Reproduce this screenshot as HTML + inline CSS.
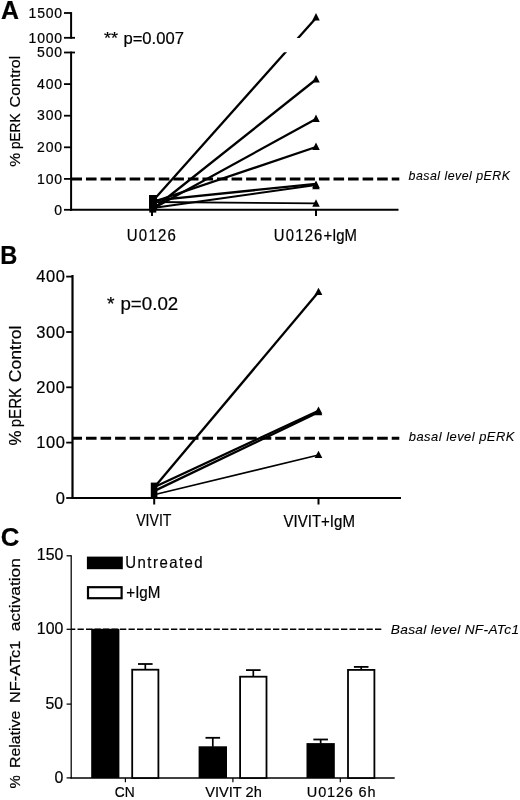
<!DOCTYPE html>
<html><head><meta charset="utf-8"><title>Figure</title>
<style>html,body{margin:0;padding:0;background:#fff}svg{display:block}text{font-family:"Liberation Sans", sans-serif;fill:#000;stroke:#000;stroke-width:0.2px;white-space:pre}text[font-style=italic]{stroke-width:0.1px}</style></head><body>
<svg width="520" height="800" viewBox="0 0 520 800">
<rect width="520" height="800" fill="#fff"/>
<line x1="71.10" y1="12.10" x2="71.10" y2="38.70" stroke="#000" stroke-width="2" />
<line x1="64.00" y1="13.00" x2="71.10" y2="13.00" stroke="#000" stroke-width="1.8" />
<line x1="64.00" y1="37.80" x2="75.00" y2="37.80" stroke="#000" stroke-width="1.8" />
<line x1="71.10" y1="51.60" x2="71.10" y2="210.80" stroke="#000" stroke-width="2" />
<line x1="64.00" y1="52.50" x2="75.00" y2="52.50" stroke="#000" stroke-width="1.8" />
<line x1="64.00" y1="84.10" x2="71.10" y2="84.10" stroke="#000" stroke-width="1.8" />
<line x1="64.00" y1="115.70" x2="71.10" y2="115.70" stroke="#000" stroke-width="1.8" />
<line x1="64.00" y1="147.30" x2="71.10" y2="147.30" stroke="#000" stroke-width="1.8" />
<line x1="64.00" y1="178.90" x2="71.10" y2="178.90" stroke="#000" stroke-width="1.8" />
<line x1="64.00" y1="209.80" x2="71.10" y2="209.80" stroke="#000" stroke-width="1.8" />
<line x1="70.10" y1="209.80" x2="398.50" y2="209.80" stroke="#000" stroke-width="2" />
<line x1="152.00" y1="209.80" x2="152.00" y2="216.00" stroke="#000" stroke-width="2" />
<line x1="316.00" y1="209.80" x2="316.00" y2="216.00" stroke="#000" stroke-width="2" />
<line x1="71.40" y1="179.10" x2="399.30" y2="179.10" stroke="#000" stroke-width="3" stroke-dasharray="10.6 3.96"/>
<clipPath id="brk"><rect x="72" y="0" width="330" height="38"/><rect x="72" y="52.2" width="330" height="160"/></clipPath>
<line x1="153" y1="200.8" x2="316" y2="18" stroke="#000" stroke-width="2.3" clip-path="url(#brk)"/>
<polygon points="312.25,20.57 319.75,20.57 316.00,13.07" fill="#000"/>
<line x1="153.00" y1="209.00" x2="316.00" y2="79.50" stroke="#000" stroke-width="2.3" />
<polygon points="312.25,82.58 319.75,82.58 316.00,75.08" fill="#000"/>
<line x1="153.00" y1="208.50" x2="316.00" y2="119.00" stroke="#000" stroke-width="2.3" />
<polygon points="312.25,122.08 319.75,122.08 316.00,114.58" fill="#000"/>
<line x1="153.00" y1="202.00" x2="316.00" y2="147.00" stroke="#000" stroke-width="2.3" />
<polygon points="312.25,150.07 319.75,150.07 316.00,142.57" fill="#000"/>
<line x1="153.00" y1="200.60" x2="316.00" y2="183.80" stroke="#000" stroke-width="2.3" />
<polygon points="312.25,189.18 319.75,189.18 316.00,181.68" fill="#000"/>
<line x1="153.00" y1="208.00" x2="316.00" y2="185.00" stroke="#000" stroke-width="1.8" />
<polygon points="312.25,187.97 319.75,187.97 316.00,180.47" fill="#000"/>
<line x1="153.00" y1="202.00" x2="316.00" y2="203.30" stroke="#000" stroke-width="1.8" />
<polygon points="312.25,206.78 319.75,206.78 316.00,199.28" fill="#000"/>
<rect x="149" y="195" width="8" height="14.5" fill="#000"/><rect x="149.3" y="209" width="7" height="3.6" fill="#000"/>
<line x1="72.50" y1="275.00" x2="72.50" y2="499.00" stroke="#000" stroke-width="2.2" />
<line x1="66.20" y1="276.60" x2="72.50" y2="276.60" stroke="#000" stroke-width="1.8" />
<line x1="66.20" y1="332.00" x2="72.50" y2="332.00" stroke="#000" stroke-width="1.8" />
<line x1="66.20" y1="387.30" x2="72.50" y2="387.30" stroke="#000" stroke-width="1.8" />
<line x1="66.20" y1="442.60" x2="72.50" y2="442.60" stroke="#000" stroke-width="1.8" />
<line x1="66.20" y1="498.00" x2="72.50" y2="498.00" stroke="#000" stroke-width="1.8" />
<line x1="71.50" y1="498.00" x2="401.00" y2="498.00" stroke="#000" stroke-width="2" />
<line x1="154.20" y1="498.00" x2="154.20" y2="504.50" stroke="#000" stroke-width="2" />
<line x1="318.50" y1="498.00" x2="318.50" y2="504.50" stroke="#000" stroke-width="2" />
<line x1="72.50" y1="438.30" x2="399.30" y2="438.30" stroke="#000" stroke-width="3" stroke-dasharray="10.6 3.96" stroke-dashoffset="1.1"/>
<line x1="155.00" y1="486.50" x2="318.50" y2="292.00" stroke="#000" stroke-width="2.3" />
<polygon points="314.65,295.03 322.35,295.03 318.50,287.63" fill="#000"/>
<line x1="155.00" y1="486.80" x2="318.50" y2="410.80" stroke="#000" stroke-width="2.3" />
<polygon points="314.65,413.83 322.35,413.83 318.50,406.43" fill="#000"/>
<line x1="155.00" y1="490.60" x2="318.50" y2="412.30" stroke="#000" stroke-width="2.3" />
<polygon points="314.65,415.33 322.35,415.33 318.50,407.93" fill="#000"/>
<line x1="155.00" y1="494.50" x2="318.50" y2="455.00" stroke="#000" stroke-width="1.8" />
<polygon points="314.65,458.03 322.35,458.03 318.50,450.63" fill="#000"/>
<rect x="150.8" y="482.6" width="6.6" height="15" fill="#000"/>
<line x1="71.20" y1="555.20" x2="71.20" y2="778.60" stroke="#000" stroke-width="1.25" />
<line x1="66.60" y1="555.80" x2="71.20" y2="555.80" stroke="#000" stroke-width="1.25" />
<line x1="66.60" y1="629.30" x2="71.20" y2="629.30" stroke="#000" stroke-width="1.25" />
<line x1="66.60" y1="704.10" x2="71.20" y2="704.10" stroke="#000" stroke-width="1.25" />
<line x1="66.60" y1="777.90" x2="71.20" y2="777.90" stroke="#000" stroke-width="1.25" />
<line x1="70.50" y1="778.00" x2="394.70" y2="778.00" stroke="#000" stroke-width="1.5" />
<line x1="125.40" y1="778.00" x2="125.40" y2="782.30" stroke="#000" stroke-width="1.2" />
<line x1="232.90" y1="778.00" x2="232.90" y2="782.30" stroke="#000" stroke-width="1.2" />
<line x1="340.30" y1="778.00" x2="340.30" y2="782.30" stroke="#000" stroke-width="1.2" />
<rect x="91.2" y="628.8" width="28.20" height="149.20" fill="#000"/>
<rect x="132.20000000000002" y="669.6999999999999" width="26.20" height="108.30" fill="#fff" stroke="#000" stroke-width="1.8"/>
<line x1="145.30" y1="669.30" x2="145.30" y2="664.00" stroke="#000" stroke-width="1.7" />
<line x1="138.00" y1="664.00" x2="152.60" y2="664.00" stroke="#000" stroke-width="1.8" />
<rect x="198.6" y="746.3" width="28.40" height="31.70" fill="#000"/>
<line x1="212.80" y1="746.80" x2="212.80" y2="737.80" stroke="#000" stroke-width="1.7" />
<line x1="205.50" y1="737.80" x2="220.10" y2="737.80" stroke="#000" stroke-width="1.8" />
<rect x="240.1" y="676.6999999999999" width="26.40" height="101.30" fill="#fff" stroke="#000" stroke-width="1.8"/>
<line x1="253.30" y1="676.30" x2="253.30" y2="670.10" stroke="#000" stroke-width="1.7" />
<line x1="246.00" y1="670.10" x2="260.60" y2="670.10" stroke="#000" stroke-width="1.8" />
<rect x="306.5" y="743.1" width="28.30" height="34.90" fill="#000"/>
<line x1="320.65" y1="743.60" x2="320.65" y2="739.50" stroke="#000" stroke-width="1.7" />
<line x1="313.35" y1="739.50" x2="327.95" y2="739.50" stroke="#000" stroke-width="1.8" />
<rect x="348.0" y="669.9" width="26.40" height="108.10" fill="#fff" stroke="#000" stroke-width="1.8"/>
<line x1="361.20" y1="669.50" x2="361.20" y2="666.90" stroke="#000" stroke-width="1.7" />
<line x1="353.90" y1="666.90" x2="368.50" y2="666.90" stroke="#000" stroke-width="1.8" />
<line x1="71.20" y1="629.20" x2="382.00" y2="629.20" stroke="#000" stroke-width="1.5" stroke-dasharray="6.3 2.2" stroke-dashoffset="2.2"/>
<rect x="86.9" y="556.6" width="35.9" height="12.6" fill="#000"/>
<rect x="88" y="587.2" width="33.6" height="11" fill="#fff" stroke="#000" stroke-width="2.2"/>
<text x="1.05" y="19.00" font-size="25" textLength="17.95" lengthAdjust="spacingAndGlyphs" xml:space="preserve" font-weight="bold">A</text>
<text x="28.60" y="18.00" font-size="14" letter-spacing="0.8" textLength="34.36" lengthAdjust="spacingAndGlyphs" xml:space="preserve">1500</text>
<text x="28.60" y="43.00" font-size="14" letter-spacing="0.8" textLength="34.36" lengthAdjust="spacingAndGlyphs" xml:space="preserve">1000</text>
<text x="37.10" y="57.00" font-size="14" letter-spacing="0.8" textLength="25.77" lengthAdjust="spacingAndGlyphs" xml:space="preserve">500</text>
<text x="37.10" y="89.00" font-size="14" letter-spacing="0.8" textLength="25.77" lengthAdjust="spacingAndGlyphs" xml:space="preserve">400</text>
<text x="37.10" y="120.00" font-size="14" letter-spacing="0.8" textLength="25.77" lengthAdjust="spacingAndGlyphs" xml:space="preserve">300</text>
<text x="37.10" y="152.00" font-size="14" letter-spacing="0.8" textLength="25.77" lengthAdjust="spacingAndGlyphs" xml:space="preserve">200</text>
<text x="37.10" y="184.00" font-size="14" letter-spacing="0.8" textLength="25.77" lengthAdjust="spacingAndGlyphs" xml:space="preserve">100</text>
<text x="54.35" y="215.00" font-size="14" letter-spacing="0.8" textLength="8.59" lengthAdjust="spacingAndGlyphs" xml:space="preserve">0</text>
<text x="104.12" y="44.00" font-size="16" textLength="14.01" lengthAdjust="spacingAndGlyphs" xml:space="preserve">**</text>
<text x="123.46" y="44.00" font-size="16" textLength="60.45" lengthAdjust="spacingAndGlyphs" xml:space="preserve">p=0.007</text>
<text x="126.83" y="241.00" font-size="16" letter-spacing="1.3" textLength="50.19" lengthAdjust="spacingAndGlyphs" xml:space="preserve">U0126</text>
<text x="273.84" y="241.00" font-size="16" letter-spacing="1.3" textLength="49.76" lengthAdjust="spacingAndGlyphs" xml:space="preserve">U0126</text>
<text x="323.50" y="241.00" font-size="16" textLength="33.47" lengthAdjust="spacingAndGlyphs" xml:space="preserve">+IgM</text>
<text x="408.56" y="180.00" font-size="13" letter-spacing="0.5" textLength="101.98" lengthAdjust="spacingAndGlyphs" xml:space="preserve" font-style="italic">basal level pERK</text>
<text x="0.25" y="264.00" font-size="25" textLength="17.06" lengthAdjust="spacingAndGlyphs" xml:space="preserve" font-weight="bold">B</text>
<text x="36.20" y="282.00" font-size="16.5" letter-spacing="0.6" textLength="29.34" lengthAdjust="spacingAndGlyphs" xml:space="preserve">400</text>
<text x="36.20" y="338.00" font-size="16.5" letter-spacing="0.6" textLength="29.34" lengthAdjust="spacingAndGlyphs" xml:space="preserve">300</text>
<text x="36.20" y="393.00" font-size="16.5" letter-spacing="0.6" textLength="29.34" lengthAdjust="spacingAndGlyphs" xml:space="preserve">200</text>
<text x="36.20" y="448.00" font-size="16.5" letter-spacing="0.6" textLength="29.34" lengthAdjust="spacingAndGlyphs" xml:space="preserve">100</text>
<text x="55.70" y="504.00" font-size="16.5" letter-spacing="0.6" textLength="9.78" lengthAdjust="spacingAndGlyphs" xml:space="preserve">0</text>
<text x="107.02" y="310.00" font-size="17.5" textLength="7.52" lengthAdjust="spacingAndGlyphs" xml:space="preserve">*</text>
<text x="120.46" y="310.00" font-size="17.5" textLength="57.83" lengthAdjust="spacingAndGlyphs" xml:space="preserve">p=0.02</text>
<text x="136.20" y="526.00" font-size="16" textLength="35.23" lengthAdjust="spacingAndGlyphs" xml:space="preserve">VIVIT</text>
<text x="283.50" y="527.00" font-size="16" textLength="71.40" lengthAdjust="spacingAndGlyphs" xml:space="preserve">VIVIT+IgM</text>
<text x="408.76" y="441.00" font-size="13.5" letter-spacing="0.5" textLength="106.14" lengthAdjust="spacingAndGlyphs" xml:space="preserve" font-style="italic">basal level pERK</text>
<text x="0.87" y="546.00" font-size="25" textLength="18.67" lengthAdjust="spacingAndGlyphs" xml:space="preserve" font-weight="bold">C</text>
<text x="36.86" y="560.00" font-size="16" textLength="26.44" lengthAdjust="spacingAndGlyphs" xml:space="preserve">150</text>
<text x="36.86" y="634.00" font-size="16" textLength="26.44" lengthAdjust="spacingAndGlyphs" xml:space="preserve">100</text>
<text x="45.52" y="709.00" font-size="16" textLength="17.62" lengthAdjust="spacingAndGlyphs" xml:space="preserve">50</text>
<text x="54.43" y="783.00" font-size="16" textLength="8.82" lengthAdjust="spacingAndGlyphs" xml:space="preserve">0</text>
<text x="125.37" y="568.00" font-size="16.5" letter-spacing="1.6" textLength="78.71" lengthAdjust="spacingAndGlyphs" xml:space="preserve">Untreated</text>
<text x="126.29" y="598.00" font-size="16" textLength="34.11" lengthAdjust="spacingAndGlyphs" xml:space="preserve">+IgM</text>
<text x="114.83" y="797.00" font-size="15.5" textLength="19.90" lengthAdjust="spacingAndGlyphs" xml:space="preserve">CN</text>
<text x="205.16" y="797.00" font-size="15.5" textLength="56.61" lengthAdjust="spacingAndGlyphs" xml:space="preserve">VIVIT 2h</text>
<text x="306.83" y="797.00" font-size="15.5" letter-spacing="0.9" textLength="69.58" lengthAdjust="spacingAndGlyphs" xml:space="preserve">U0126 6h</text>
<text x="390.79" y="634.00" font-size="13.5" letter-spacing="0.3" textLength="128.63" lengthAdjust="spacingAndGlyphs" xml:space="preserve" font-style="italic">Basal level NF-ATc1</text>
<text transform="translate(20.20,0) rotate(-90)" font-size="15.5"><tspan x="-166.70" textLength="13.85" lengthAdjust="spacingAndGlyphs">%</tspan> <tspan x="-149.08" textLength="35.60" lengthAdjust="spacingAndGlyphs">pERK</tspan> <tspan x="-107.48" textLength="51.78" lengthAdjust="spacingAndGlyphs">Control</tspan></text>
<text transform="translate(21.20,0) rotate(-90)" font-size="16.5"><tspan x="-445.61" textLength="15.00" lengthAdjust="spacingAndGlyphs">%</tspan> <tspan x="-427.31" textLength="39.44" lengthAdjust="spacingAndGlyphs">pERK</tspan> <tspan x="-382.20" textLength="56.68" lengthAdjust="spacingAndGlyphs">Control</tspan></text>
<text transform="translate(20.20,0) rotate(-90)" font-size="15"><tspan x="-788.40" textLength="13.29" lengthAdjust="spacingAndGlyphs">%</tspan> <tspan x="-768.02" textLength="57.26" lengthAdjust="spacingAndGlyphs">Relative</tspan> <tspan x="-703.06" textLength="62.47" lengthAdjust="spacingAndGlyphs">NF-ATc1</tspan> <tspan x="-631.37" textLength="73.27" lengthAdjust="spacingAndGlyphs">activation</tspan></text>
</svg></body></html>
